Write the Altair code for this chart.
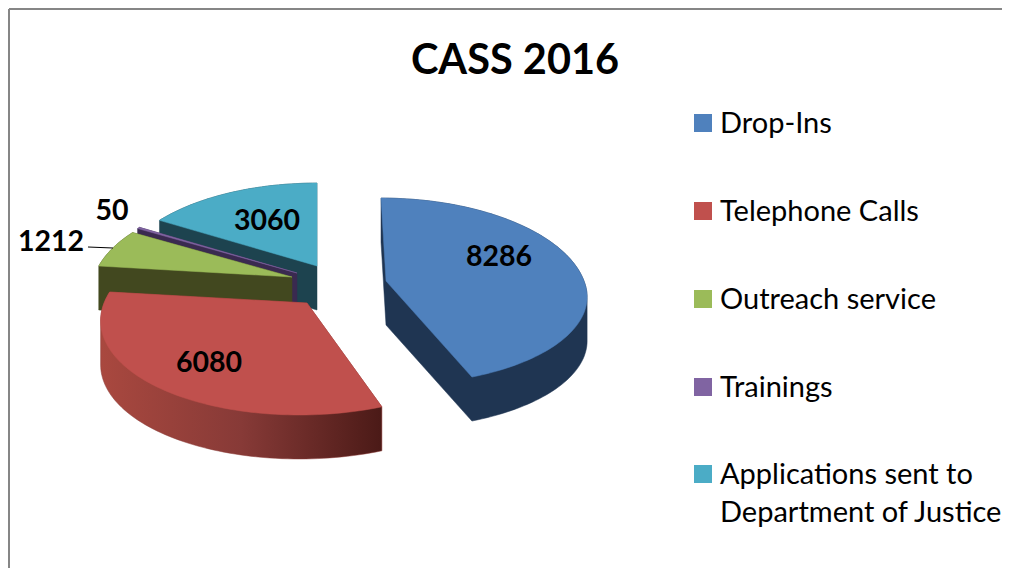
import math
import altair as alt
import pandas as pd

categories = ["Drop-Ins", "Telephone Calls", "Outreach service", "Trainings",
              "Applications sent to\nDepartment of Justice"]
values = [8286, 6080, 1212, 50, 3060]
top_colors = ["#4F81BD", "#C0504D", "#9BBB59", "#8064A2", "#4BACC6"]
wall_colors = ["#1F3552", "#8A3A37", "#42481F", "#3A2A50", "#1D434F"]
# exploded slice apex, on the page
apex_x = [386, 307, 292, 297, 317]
apex_y = [281, 303, 277, 273, 266]
# small per-slice perspective corrections
rx_factor = [1, 1.025, 1, 1, 1]
front_factor = [0.925, 1, 1, 1, 1]
shear = [0.06, -0.07, 0, 0, 0]
label_x = [499, 209, 51, 112, 267]
label_y = [257, 363, 242, 211, 221]
legend_y = [123, 211, 299, 387, 474]
legend_sym_x = [703] * 5
legend_text_x = [720] * 5
RX, RY, P, DEPTH = 198, 95.3, 0.149, 44
FONT = "Lato"

total = sum(values)


def sector(k):
    a0 = sum(values[:k]) / total * 2 * math.pi
    a1 = sum(values[:k + 1]) / total * 2 * math.pi
    n = max(2, int((a1 - a0) * 40))
    pts = [(apex_x[k], apex_y[k])]
    for j in range(n + 1):
        t = a0 + (a1 - a0) * j / n
        X, Y = math.sin(t), -math.cos(t)
        f = 1 / (1 - P * Y)
        dy = RY * Y * f * (front_factor[k] if Y > 0 else 1)
        dx = RX * rx_factor[k] * X * f + shear[k] * dy
        pts.append((apex_x[k] + dx, apex_y[k] + dy))
    return pts


def hull(points):
    pts = sorted(set(points))
    def half(seq):
        out = []
        for p in seq:
            while len(out) > 1 and ((out[-1][0] - out[-2][0]) * (p[1] - out[-2][1])
                                    - (out[-1][1] - out[-2][1]) * (p[0] - out[-2][0])) <= 0:
                out.pop()
            out.append(p)
        return out
    lo, hi = half(pts), half(pts[::-1])
    return lo[:-1] + hi[:-1]


def frame(pts):
    pts = list(pts) + [pts[0]]
    return pd.DataFrame({"x": [p[0] for p in pts], "y": [p[1] for p in pts], "i": range(len(pts))})


xs = alt.X("x:Q", axis=None, scale=alt.Scale(domain=[8, 1002], nice=False, zero=False))
ys = alt.Y("y:Q", axis=None, scale=alt.Scale(domain=[568, 8], nice=False, zero=False))

red_wall = alt.Gradient(
    gradient="linear", x1=0, x2=1, y1=0, y2=0,
    stops=[alt.GradientStop(offset=0, color="#A9483F"),
           alt.GradientStop(offset=0.5, color="#873A37"),
           alt.GradientStop(offset=1, color="#4B1A17")],
)

layers = []
# frame
layers.append(alt.Chart(pd.DataFrame({"x": [9], "x2": [9], "y": [9], "y2": [568]})).mark_rule(color="#868686", strokeWidth=2)
              .encode(x=xs, y=ys, x2="x2:Q", y2="y2:Q"))
layers.append(alt.Chart(pd.DataFrame({"x": [9], "x2": [1002], "y": [9], "y2": [9]})).mark_rule(color="#868686", strokeWidth=2)
              .encode(x=xs, y=ys, x2="x2:Q", y2="y2:Q"))

# painted back to front
for k in [4, 3, 2, 1, 0]:
    top = sector(k)
    wall = hull(top + [(x, y + DEPTH) for x, y in top])
    wall_fill = red_wall if k == 1 else wall_colors[k]
    layers.append(alt.Chart(frame(wall)).mark_line(fill=wall_fill, stroke=wall_colors[k], strokeWidth=0.5)
                  .encode(x=xs, y=ys, order=alt.Order("i:Q")))
    layers.append(alt.Chart(frame(top)).mark_line(fill=top_colors[k], stroke=top_colors[k], strokeWidth=0.5)
                  .encode(x=xs, y=ys, order=alt.Order("i:Q")))

# leader line
layers.append(alt.Chart(pd.DataFrame({"x": [88], "x2": [113], "y": [247], "y2": [248]}))
              .mark_rule(color="black", strokeWidth=1.2).encode(x=xs, y=ys, x2="x2:Q", y2="y2:Q"))

# value labels
labels_df = pd.DataFrame({"x": label_x, "y": label_y, "v": [str(v) for v in values]})
layers.append(alt.Chart(labels_df).mark_text(font=FONT, fontWeight="bold", fontSize=28.5, color="black")
              .encode(x=xs, y=ys, text="v:N"))

# legend
leg_sym = pd.DataFrame({"x": legend_sym_x, "y": legend_y, "c": top_colors})
layers.append(alt.Chart(leg_sym).mark_square(size=324, opacity=1)
              .encode(x=xs, y=ys, fill=alt.Fill("c:N", scale=None), stroke=alt.value(None)))
leg_txt = pd.DataFrame({"x": legend_text_x, "y": [v + 10 for v in legend_y], "t": categories})
layers.append(alt.Chart(leg_txt).mark_text(font=FONT, fontSize=29, color="black", align="left",
                                           baseline="alphabetic", lineBreak="\n", lineHeight=38)
              .encode(x=xs, y=ys, text="t:N"))

# title
layers.append(alt.Chart(pd.DataFrame({"x": [515], "y": [62], "t": ["CASS 2016"]}))
              .mark_text(font=FONT, fontSize=41.5, fontWeight="bold", color="black")
              .encode(x=xs, y=ys, text="t:N"))

chart = alt.layer(*layers).properties(
    width=994, height=560, padding=0,
    autosize=alt.AutoSizeParams(type="none"),
).configure_view(stroke=None)

chart.save("out.html", embed_options={"renderer": "svg", "actions": False})
